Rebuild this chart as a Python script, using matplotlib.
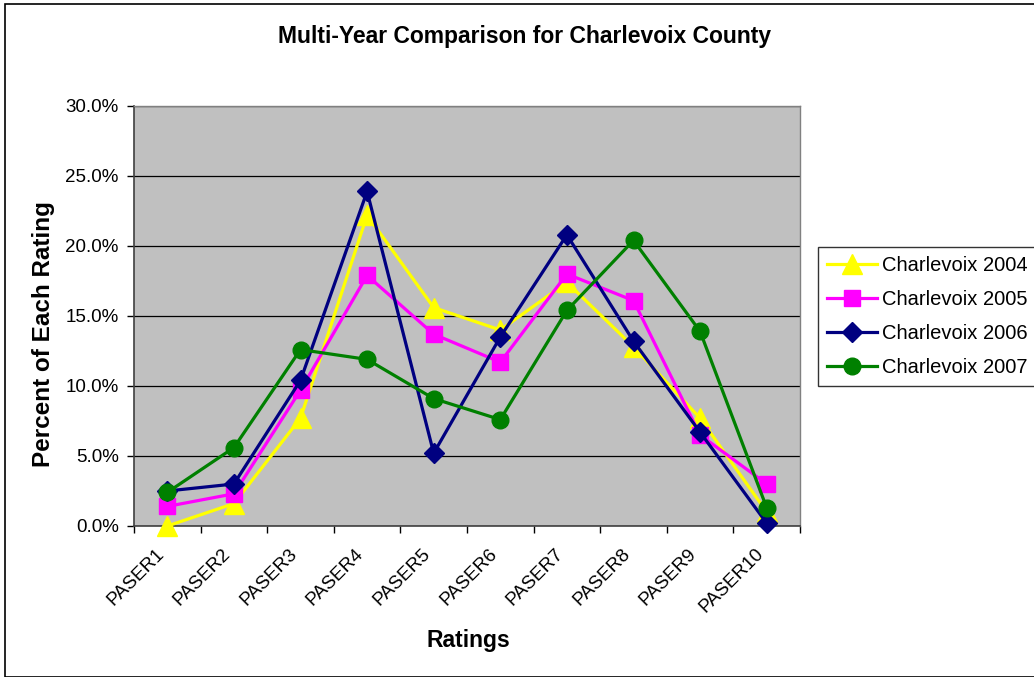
import numpy as np
import matplotlib.pyplot as plt
import matplotlib.transforms as mtransforms
from matplotlib.patches import Rectangle

plt.rcParams['font.family'] = ['Liberation Sans', 'DejaVu Sans']

# Chart data (percent of each rating)
ratings = ["PASER1", "PASER2", "PASER3", "PASER4", "PASER5",
           "PASER6", "PASER7", "PASER8", "PASER9", "PASER10"]
y2004 = [0.0, 1.6, 7.7, 22.2, 15.6, 14.0, 17.4, 12.8, 7.7, 1.0]
y2005 = [1.4, 2.3, 9.7, 17.9, 13.7, 11.7, 18.0, 16.1, 6.5, 3.0]
y2006 = [2.5, 3.0, 10.4, 23.9, 5.2, 13.5, 20.8, 13.2, 6.7, 0.2]
y2007 = [2.4, 5.6, 12.6, 11.9, 9.1, 7.6, 15.4, 20.4, 13.9, 1.3]

W, H = 1034, 677
fig = plt.figure(figsize=(W / 100, H / 100), dpi=100)
fig.patch.set_facecolor('white')

# outer chart border
fig.patches.append(Rectangle((5 / W, 0), 1.2, (H - 4) / H, transform=fig.transFigure,
                             fill=False, edgecolor='black', linewidth=1.2))

ax = fig.add_axes([134 / W, 1 - 526 / H, (800 - 134) / W, (526 - 106) / H])
ax.set_facecolor('#C0C0C0')

x = np.arange(len(ratings))
series = [
    ("Charlevoix 2004", y2004, '#FFFF00', '^', 14),
    ("Charlevoix 2005", y2005, '#FF00FF', 's', 12),
    ("Charlevoix 2006", y2006, '#000080', 'D', 10.5),
    ("Charlevoix 2007", y2007, '#008000', 'o', 12),
]
for name, vals, col, mk, ms in series:
    ax.plot(x, vals, color=col, marker=mk, markersize=ms, linewidth=2.3,
            markerfacecolor=col, markeredgecolor=col, label=name,
            clip_on=False, zorder=3)

ax.set_xlim(-0.5, len(ratings) - 0.5)
ax.set_ylim(0, 30)
ax.set_yticks(np.arange(0, 30.1, 5))
ax.set_yticklabels([f"{v:.1f}%" for v in np.arange(0, 30.1, 5)], fontsize=13.5)
ax.yaxis.grid(True, color='black', linewidth=0.9)
ax.set_axisbelow(True)

ax.set_xticks(x)
ax.set_xticklabels(ratings, rotation=45, ha='right', va='center',
                   rotation_mode='anchor', fontsize=13.5)
ax.set_xticks(np.arange(-0.5, len(ratings)), minor=True)
ax.tick_params(axis='x', which='major', length=0, pad=18)
ax.tick_params(axis='x', which='minor', length=5, direction='out', width=1)
ax.tick_params(axis='y', length=5, direction='out', width=1, pad=6)

# nudge rotated labels a little to the left, like the original
shift = mtransforms.ScaledTranslation(-6 / 100, 0, fig.dpi_scale_trans)
for lbl in ax.get_xticklabels():
    lbl.set_transform(lbl.get_transform() + shift)

for side in ['top', 'right']:
    ax.spines[side].set_color('#808080')
    ax.spines[side].set_linewidth(1)
for side in ['left', 'bottom']:
    ax.spines[side].set_color('#404040')
    ax.spines[side].set_linewidth(1.2)

fig.text(525 / W, 1 - 37 / H, "Multi-Year Comparison for Charlevoix County",
         fontsize=16.5, fontweight='bold', ha='center', va='center')
fig.text(468 / W, 1 - 640 / H, "Ratings", fontsize=16.5, fontweight='bold',
         ha='center', va='center')
fig.text(44 / W, 1 - 334 / H, "Percent of Each Rating", fontsize=17.5,
         fontweight='bold', rotation=90, ha='center', va='center')

leg = fig.legend(loc='upper left', bbox_to_anchor=(818 / W, 1 - 247 / H),
                 fontsize=14.5, frameon=True, fancybox=False, edgecolor='black',
                 handlelength=2.5, handletextpad=0.25, borderpad=0.45,
                 labelspacing=0.75, borderaxespad=0)
leg.get_frame().set_linewidth(1)

fig.savefig("out.png", dpi=100)
